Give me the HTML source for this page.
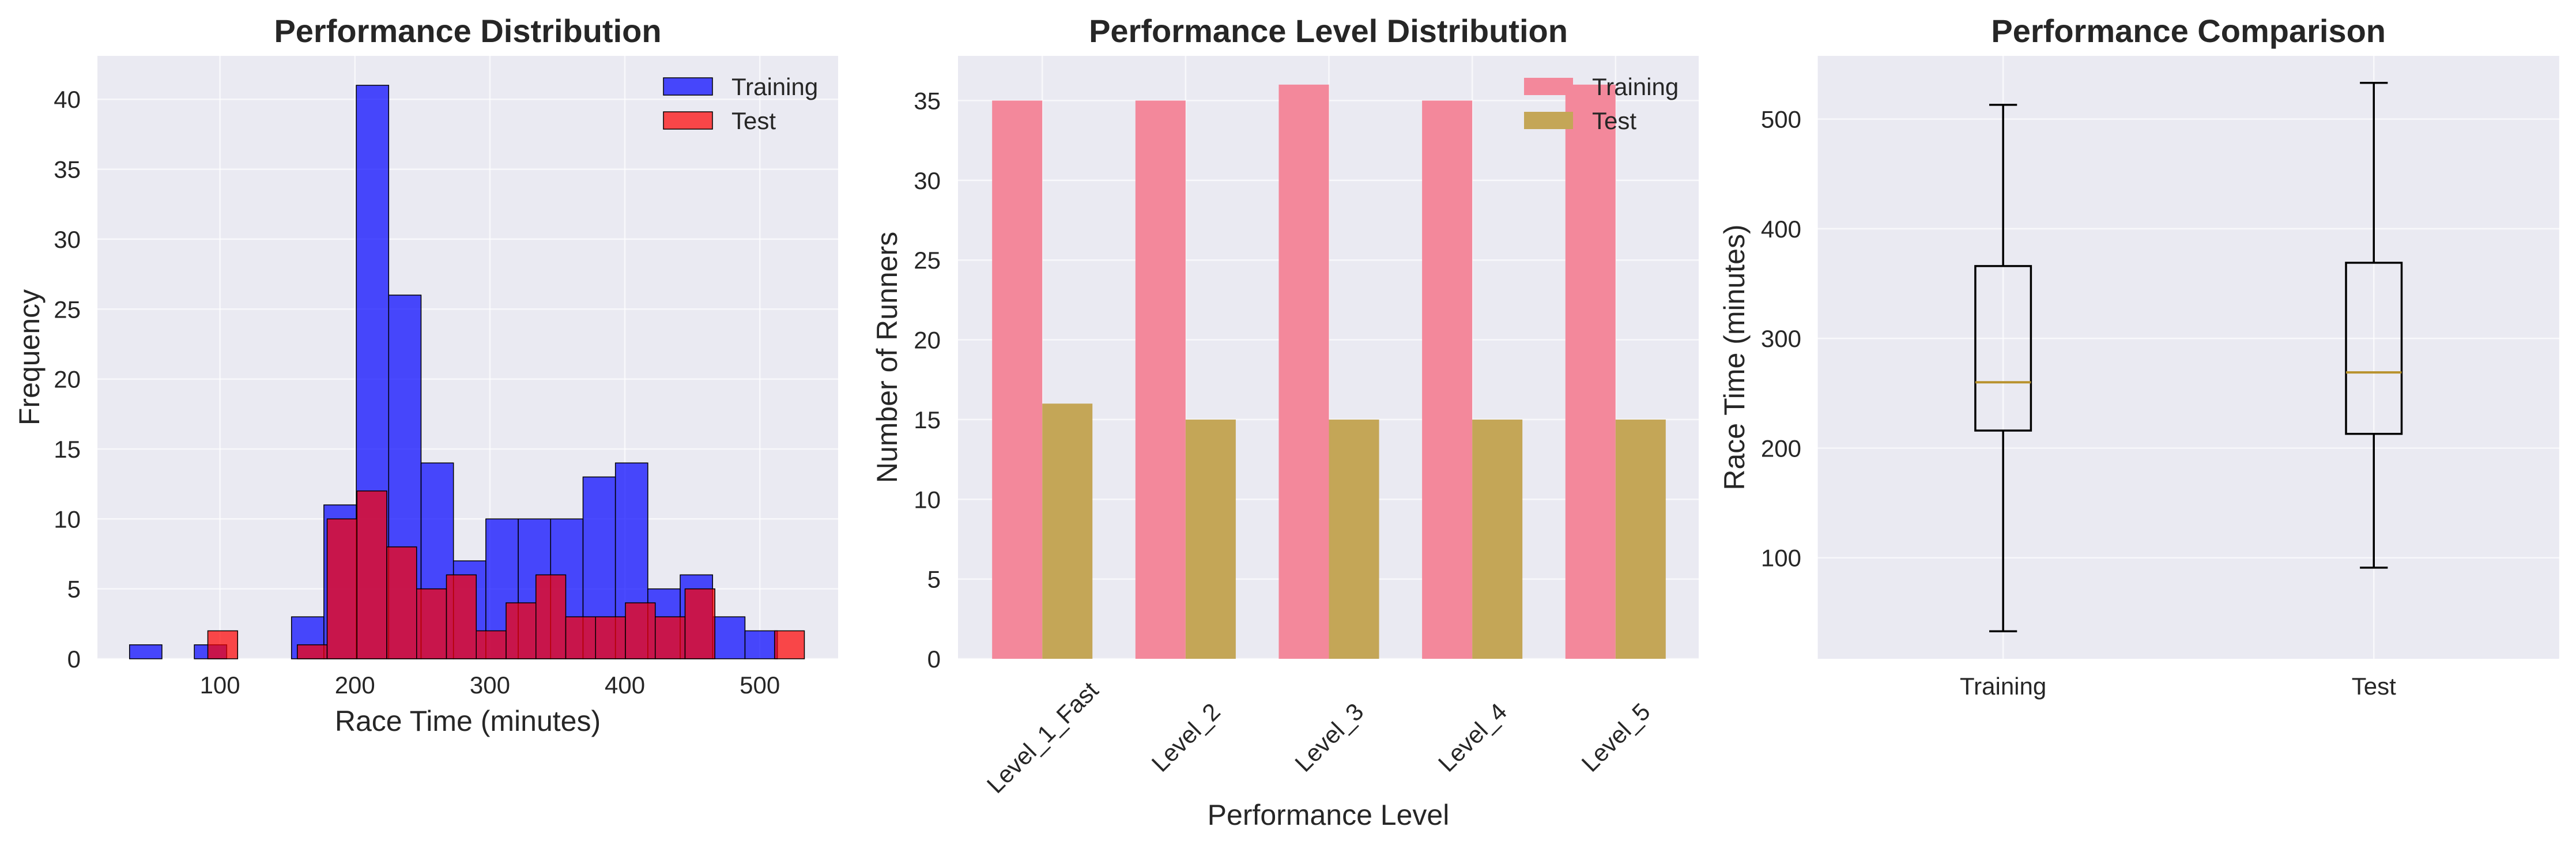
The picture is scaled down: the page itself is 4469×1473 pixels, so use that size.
<!DOCTYPE html>
<html><head><meta charset="utf-8"><style>
html,body{margin:0;padding:0;background:#fff;}
svg text{font-family:"Liberation Sans",Arial,sans-serif;fill:#262626;}
</style></head><body>
<svg id="fig" width="4469" height="1468" viewBox="0 0 4469 1468" xmlns="http://www.w3.org/2000/svg"></svg>
<script>
// ---- Panel 1 data (histogram) ----
const trainStart = 33, trainWidth = 24.0;
const trainCounts = [1,0,1,0,0,3,11,41,26,14,7,10,10,10,13,14,5,6,3,2];
const testStart = 91, testWidth = 22.1;
const testCounts = [2,0,0,1,10,12,8,5,6,2,4,6,3,3,4,3,5,0,0,2];
const histXTicks = [100,200,300,400,500];
const histYTicks = [0,5,10,15,20,25,30,35,40];
// ---- Panel 2 data (grouped bars) ----
const levels = ["Level_1_Fast","Level_2","Level_3","Level_4","Level_5"];
const levelTrain = [35,35,36,35,36];
const levelTest = [16,15,15,15,15];
const levelYTicks = [0,5,10,15,20,25,30,35];
// ---- Panel 3 data (box plot) ----
const boxLabels = ["Training","Test"];
const boxMin = [33,91];
const boxQ1 = [216,213];
const boxMed = [260,269];
const boxQ3 = [366,369];
const boxMax = [513,533];
const boxYTicks = [100,200,300,400,500];

const NS="http://www.w3.org/2000/svg";
const svg=document.getElementById('fig');
function el(tag,attrs,parent,text){const e=document.createElementNS(NS,tag);for(const k in attrs)e.setAttribute(k,attrs[k]);if(text!==undefined)e.textContent=text;(parent||svg).appendChild(e);return e;}
function lin(d0,d1,r0,r1){return v=>r0+(v-d0)*(r1-r0)/(d1-d0);}
const TOP=97,BOT=1143;

function axesBg(g,x0,x1){
  const r=el('rect',{x:x0,y:TOP,width:x1-x0,height:BOT-TOP,fill:'#eaeaf2'},g);
  
  
}
function gridV(g,x){const l=el('line',{x1:x,x2:x,y1:TOP,y2:BOT,stroke:'#fff','stroke-width':2.5,opacity:0.7},g);}
function gridH(g,x0,x1,y){const l=el('line',{x1:x0,x2:x1,y1:y,y2:y,stroke:'#fff','stroke-width':2.5,opacity:0.7},g);}
function title(g,cx,t){const e=el('text',{x:cx,y:73,'text-anchor':'middle','font-size':56,'font-weight':'bold'},g,t);}
function ytick(g,x,y,t){const e=el('text',{x:x,y:y+15,'text-anchor':'end','font-size':42},g,t);}
function xtick(g,x,y,t){const e=el('text',{x:x,y:y,'text-anchor':'middle','font-size':42},g,t);}
function ylabel(g,x,cy,t){const e=el('text',{x:x,y:cy,'text-anchor':'middle','font-size':50,transform:`rotate(-90 ${x} ${cy})`},g,t);}
function xlabel(g,cx,y,t){const e=el('text',{x:cx,y:y,'text-anchor':'middle','font-size':50},g,t);}

// ===== Panel 1 =====
{
const g=el('g',{});  
const X0=169,X1=1454;
const xs=lin(9.2,558,X0,X1), ys=lin(0,43.1,BOT,TOP);
axesBg(g,X0,X1);
histXTicks.forEach(v=>gridV(g,xs(v)));
histYTicks.forEach(v=>gridH(g,X0,X1,ys(v)));
trainCounts.forEach((c,i)=>{ if(!c) return;
  const a=trainStart+i*trainWidth;
  const r=el('rect',{x:xs(a),y:ys(c),width:xs(a+trainWidth)-xs(a),height:BOT-ys(c),fill:'rgba(0,0,255,0.7)',stroke:'#000','stroke-width':1.5},g);
   });
testCounts.forEach((c,i)=>{ if(!c) return;
  const a=testStart+i*testWidth;
  const r=el('rect',{x:xs(a),y:ys(c),width:xs(a+testWidth)-xs(a),height:BOT-ys(c),fill:'rgba(255,0,0,0.7)',stroke:'#000','stroke-width':1.5},g);
   });
histXTicks.forEach(v=>xtick(g,xs(v),1203,String(v)));
histYTicks.forEach(v=>ytick(g,140,ys(v),String(v)));
title(g,(X0+X1)/2,'Performance Distribution');
xlabel(g,(X0+X1)/2,1268,'Race Time (minutes)');
ylabel(g,68,(TOP+BOT)/2,'Frequency');
const lg=el('g',{},g);  
let p=el('rect',{x:1151,y:135,width:85,height:30,fill:'rgba(0,0,255,0.7)',stroke:'#000','stroke-width':1.5},lg);  
el('text',{x:1269,y:165,'font-size':42},lg,'Training');
p=el('rect',{x:1151,y:194,width:85,height:30,fill:'rgba(255,0,0,0.7)',stroke:'#000','stroke-width':1.5},lg);  
el('text',{x:1269,y:224,'font-size':42},lg,'Test');
}

// ===== Panel 2 =====
{
const g=el('g',{});  
const X0=1662,X1=2947;
const xs=lin(-0.588,4.58,X0,X1), ys=lin(0,37.8,BOT,TOP);
const bw=0.35;
axesBg(g,X0,X1);
levels.forEach((l,i)=>gridV(g,xs(i)));
levelYTicks.forEach(v=>gridH(g,X0,X1,ys(v)));
levels.forEach((l,i)=>{
  let r=el('rect',{x:xs(i-bw),y:ys(levelTrain[i]),width:xs(i)-xs(i-bw),height:BOT-ys(levelTrain[i]),fill:'#f3889b'},g);
   
  r=el('rect',{x:xs(i),y:ys(levelTest[i]),width:xs(i+bw)-xs(i),height:BOT-ys(levelTest[i]),fill:'#c4a657'},g);
   
  const cx=xs(i), cy=1279;
  const t=el('text',{x:0,y:15,'text-anchor':'middle','font-size':42,transform:`translate(${cx} ${cy}) rotate(-45)`},g,l);
   
});
levelYTicks.forEach(v=>ytick(g,1632,ys(v),String(v)));
title(g,(X0+X1)/2,'Performance Level Distribution');
xlabel(g,(X0+X1)/2,1431,'Performance Level');
ylabel(g,1556,(TOP+BOT)/2,'Number of Runners');
const lg=el('g',{},g);  
let p=el('rect',{x:2644,y:135,width:85,height:30,fill:'#f3889b'},lg);  
el('text',{x:2762,y:165,'font-size':42},lg,'Training');
p=el('rect',{x:2644,y:194,width:85,height:30,fill:'#c4a657'},lg);  
el('text',{x:2762,y:224,'font-size':42},lg,'Test');
}

// ===== Panel 3 =====
{
const g=el('g',{});  
const X0=3153.6,X1=4439.8;
const xs=lin(0.5,2.5,X0,X1), ys=lin(7.9,557.6,BOT,TOP);
axesBg(g,X0,X1);
boxLabels.forEach((l,i)=>gridV(g,xs(i+1)));
boxYTicks.forEach(v=>gridH(g,X0,X1,ys(v)));
boxLabels.forEach((l,i)=>{
  const c=xs(i+1), hw=(xs(1.075)-xs(1)), cw=hw/2;
  const bg=el('g',{},g);  
  const s={stroke:'#000','stroke-width':3.5,fill:'none'};
  el('line',Object.assign({x1:c,x2:c,y1:ys(boxQ3[i]),y2:ys(boxMax[i])},s),bg);
  el('line',Object.assign({x1:c,x2:c,y1:ys(boxQ1[i]),y2:ys(boxMin[i])},s),bg);
  el('line',Object.assign({x1:c-cw,x2:c+cw,y1:ys(boxMax[i]),y2:ys(boxMax[i])},s),bg);
  el('line',Object.assign({x1:c-cw,x2:c+cw,y1:ys(boxMin[i]),y2:ys(boxMin[i])},s),bg);
  el('rect',Object.assign({x:c-hw,y:ys(boxQ3[i]),width:2*hw,height:ys(boxQ1[i])-ys(boxQ3[i])},s),bg);
  const m=el('line',{x1:c-hw,x2:c+hw,y1:ys(boxMed[i]),y2:ys(boxMed[i]),stroke:'#b8922e','stroke-width':4},bg);
   
  xtick(g,c,1205,l);
});
boxYTicks.forEach(v=>ytick(g,3125,ys(v),String(v)));
title(g,(X0+X1)/2,'Performance Comparison');
ylabel(g,3026,(TOP+BOT)/2,'Race Time (minutes)');
}
</script>
</body></html>
